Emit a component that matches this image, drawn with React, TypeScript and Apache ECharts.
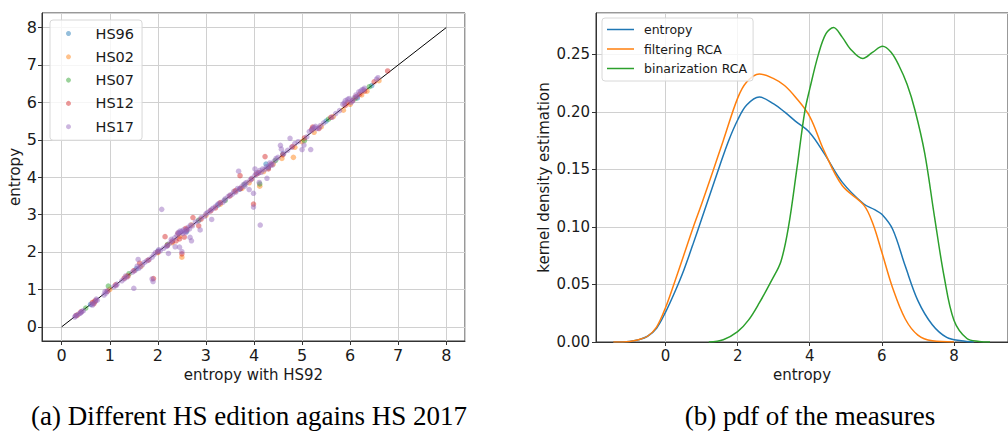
import React, { useEffect, useRef } from "react";
import * as echarts from "echarts";

// ---------- left panel: scatter of entropy per HS edition vs HS92 ----------
const scatterNames = ["HS96", "HS02", "HS07", "HS12", "HS17"];

const hs96Points = [
  [0.6, 0.6], [1.55, 1.55], [2.6, 2.55], [3.25, 3.25], [4.3, 4.25], [4.6, 4.62],
  [5.5, 5.5], [6.15, 6.12], [6.45, 6.45], [4.25, 4.35], [2.0, 2.02], [3.7, 3.68],
];

const hs02Points = [
  [0.33, 0.32], [0.68, 0.67], [1.0, 1.0], [1.35, 1.35], [1.65, 1.62], [2.0, 1.98],
  [2.3, 2.25], [2.5, 1.86], [2.7, 2.72], [3.0, 2.98], [3.3, 3.28], [3.6, 3.62],
  [3.75, 3.7], [4.12, 3.76], [4.2, 4.15], [4.4, 4.35], [4.58, 4.5], [4.82, 4.53],
  [5.0, 4.95], [5.25, 5.2], [5.4, 5.35], [5.65, 5.62], [5.86, 5.79], [6.0, 5.95],
  [6.24, 6.2], [6.35, 6.3], [6.6, 6.58], [4.85, 4.8], [3.9, 3.85], [2.45, 2.42],
];

const hs07Points = [
  [0.97, 1.09], [0.5, 0.5], [1.4, 1.42], [2.2, 2.2], [2.85, 2.85], [3.4, 3.38],
  [3.8, 3.8], [4.12, 3.82], [4.45, 4.45], [5.05, 4.98], [5.55, 5.55], [6.1, 6.1],
  [6.4, 6.42],
];

const hs12Points = [
  [0.3, 0.3], [0.4, 0.4], [0.64, 0.65], [0.7, 0.7], [0.95, 0.95], [1.12, 1.12],
  [1.3, 1.3], [1.5, 1.5], [1.62, 1.7], [1.8, 1.78], [1.91, 1.29], [2.0, 2.0],
  [2.15, 2.41], [2.3, 2.28], [2.42, 2.5], [2.5, 1.95], [2.55, 2.4], [2.6, 2.6],
  [2.73, 2.92], [2.85, 2.7], [2.9, 2.88], [3.1, 3.1], [3.3, 3.32], [3.5, 3.5],
  [3.71, 4.04], [3.72, 3.7], [3.95, 3.95], [3.99, 3.28], [4.1, 4.12], [4.23, 4.55],
  [4.35, 4.33], [4.6, 4.6], [4.8, 4.82], [5.05, 5.05], [5.2, 5.28], [5.35, 5.3],
  [5.6, 5.6], [5.9, 5.92], [6.05, 6.05], [6.2, 6.22], [6.3, 6.3], [6.5, 6.55],
  [6.78, 6.84], [2.45, 2.35], [2.58, 2.63], [0.67, 0.62], [1.38, 1.36], [2.2, 2.18],
  [2.38, 2.3], [3.2, 3.18], [3.62, 3.64], [4.05, 4.08], [4.3, 4.22], [5.22, 5.34],
  [5.95, 6.0], [6.12, 6.15],
];

const hs17Points = [
  [0.27, 0.26], [0.31, 0.3], [0.35, 0.34], [0.38, 0.36], [0.42, 0.41], [0.45, 0.43],
  [0.62, 0.6], [0.66, 0.63], [0.7, 0.68], [0.74, 0.71], [0.88, 0.85], [0.92, 0.9],
  [0.95, 0.96], [1.08, 1.07], [1.13, 1.1], [1.25, 1.23], [1.3, 1.28], [1.36, 1.33],
  [1.47, 1.46], [1.52, 1.5], [1.57, 1.62], [1.6, 1.56], [1.68, 1.66], [1.77, 1.76],
  [1.82, 1.8], [1.88, 1.86], [1.95, 1.98], [2.0, 2.01], [2.05, 2.03], [2.12, 2.1],
  [2.18, 2.15], [2.25, 2.24], [2.3, 2.3], [2.35, 2.38], [2.4, 2.45], [2.44, 2.5],
  [2.48, 2.53], [2.52, 2.5], [2.56, 2.55], [2.6, 2.58], [2.66, 2.62], [2.72, 2.7],
  [2.78, 2.8], [2.84, 2.83], [2.9, 2.92], [2.97, 2.95], [3.03, 3.05], [3.08, 3.1],
  [3.15, 3.17], [3.2, 3.22], [3.28, 3.3], [3.35, 3.33], [3.4, 3.42], [3.46, 3.48],
  [3.55, 3.55], [3.62, 3.6], [3.7, 3.68], [3.78, 3.8], [3.85, 3.86], [3.95, 3.97],
  [4.02, 4.05], [4.08, 4.1], [4.15, 4.13], [4.22, 4.2], [4.3, 4.28], [4.36, 4.35],
  [4.42, 4.43], [4.5, 4.53], [4.62, 4.64], [4.7, 4.72], [4.78, 4.8], [4.85, 4.9],
  [4.92, 4.95], [5.1, 5.08], [5.2, 5.25], [5.25, 5.33], [5.3, 5.3], [5.38, 5.38],
  [5.45, 5.45], [5.62, 5.6], [5.7, 5.7], [5.78, 5.78], [5.85, 5.95], [5.9, 6.05],
  [5.95, 6.08], [6.02, 6.0], [6.08, 6.12], [6.12, 6.2], [6.18, 6.28], [6.22, 6.3],
  [6.28, 6.34], [6.55, 6.62], [6.58, 6.66],
  [0.29, 0.3], [0.4, 0.38], [0.64, 0.58], [0.72, 0.74], [0.9, 0.94], [1.15, 1.14],
  [1.33, 1.36], [1.63, 1.6], [1.72, 1.72], [1.92, 1.93], [2.02, 2.06], [2.28, 2.34],
  [2.42, 2.52], [2.46, 2.56], [2.5, 2.56], [2.54, 2.6], [2.58, 2.52], [2.63, 2.66],
  [2.68, 2.72], [3.0, 3.02], [3.12, 3.14], [3.25, 3.28], [3.38, 3.38], [3.5, 3.52],
  [3.58, 3.62], [3.66, 3.7], [3.74, 3.74], [3.82, 3.84], [3.92, 3.92], [4.05, 4.12],
  [4.12, 4.18], [4.18, 4.22], [4.26, 4.28], [4.33, 4.38], [4.38, 4.32], [4.46, 4.5],
  [5.15, 5.22], [5.22, 5.3], [5.28, 5.36], [5.35, 5.32], [5.88, 5.98], [5.98, 6.1],
  [6.05, 6.04], [6.15, 6.16], [6.25, 6.34], [6.3, 6.38],
  [2.08, 3.14], [1.5, 1.03], [1.9, 1.21], [1.88, 1.28], [2.22, 1.96], [2.2, 2.17],
  [2.36, 2.14], [2.45, 2.13], [2.5, 2.01], [2.67, 2.39], [2.7, 2.3], [2.88, 2.59],
  [3.12, 2.87], [3.68, 4.16], [3.81, 3.76], [3.9, 3.67], [3.99, 3.57], [3.99, 3.2],
  [4.11, 3.86], [4.13, 2.72], [4.27, 3.97], [4.02, 4.22], [4.55, 4.85], [4.57, 4.75],
  [4.75, 5.04], [5.0, 4.74], [5.04, 4.86], [5.18, 4.74], [1.59, 1.8],
];

const diagonalLine = [[0, 0], [8, 8]];

// ---------- right panel: kernel density estimation ----------
const kdeNames = ["entropy", "filtering RCA", "binarization RCA"];

const entropyX = [-1.45, -1.0, -0.75, -0.5, -0.25, 0, 0.25, 0.5, 0.75, 1.0, 1.25, 1.5, 1.75, 2.0, 2.25, 2.6, 3.0, 3.3, 3.6, 4.0, 4.4, 4.9, 5.5, 5.8, 6.0, 6.3, 6.65, 7.0, 7.4, 7.8, 8.2, 8.55];
const entropyY = [0, 0.0005, 0.002, 0.005, 0.012, 0.026, 0.043, 0.062, 0.084, 0.107, 0.13, 0.153, 0.175, 0.193, 0.206, 0.213, 0.207, 0.2, 0.192, 0.182, 0.164, 0.139, 0.12, 0.115, 0.111, 0.098, 0.066, 0.036, 0.015, 0.004, 0.001, 0];

const filteringX = [-1.45, -1.0, -0.75, -0.5, -0.25, 0, 0.25, 0.5, 0.77, 1.0, 1.33, 1.6, 2.0, 2.25, 2.6, 3.0, 3.3, 3.6, 4.0, 4.4, 4.9, 5.5, 5.75, 6.0, 6.3, 6.65, 7.0, 7.4, 8.0];
const filteringY = [0, 0.0005, 0.002, 0.005, 0.013, 0.03, 0.052, 0.075, 0.1, 0.12, 0.15, 0.175, 0.212, 0.226, 0.233, 0.229, 0.223, 0.213, 0.196, 0.166, 0.136, 0.119, 0.103, 0.078, 0.047, 0.02, 0.006, 0.001, 0];

const binarizationX = [1.2, 1.6, 2.0, 2.3, 2.6, 2.95, 3.2, 3.41, 3.64, 3.86, 4.0, 4.24, 4.45, 4.66, 4.9, 5.12, 5.47, 5.75, 6.02, 6.25, 6.47, 6.7, 6.92, 7.19, 7.46, 7.73, 8.0, 8.36, 8.7, 9.0];
const binarizationY = [0, 0.002, 0.009, 0.019, 0.034, 0.054, 0.07, 0.1, 0.15, 0.2, 0.22, 0.25, 0.268, 0.2733, 0.265, 0.255, 0.2464, 0.252, 0.257, 0.252, 0.2406, 0.224, 0.2015, 0.164, 0.109, 0.0565, 0.019, 0.003, 0.0005, 0];

const captions = ["(a) Different HS edition agains HS 2017", "(b) pdf of the measures"];

// ---------- styling ----------
const FONT = "DejaVu Sans";
const TEXT = "#1a1a1a";
const GRIDLINE = "#d0d0d0";
const SPINE = "#333333";
const scatterColors = [
  "rgba(31,119,180,0.6)",
  "rgba(255,127,14,0.6)",
  "rgba(44,160,44,0.6)",
  "rgba(214,39,40,0.6)",
  "rgba(148,103,189,0.6)",
];
const kdeColors = ["#1f77b4", "#ff7f0e", "#2ca02c"];

const zip = (xs: number[], ys: number[]) => xs.map((x, i) => [x, ys[i]]);

function baseAxis(extra: any, fontSize: number) {
  return {
    type: "value",
    axisLine: { show: true, onZero: false, lineStyle: { color: SPINE, width: 1 } },
    axisTick: { show: true, inside: false, length: 4, lineStyle: { color: SPINE } },
    splitLine: { show: true, lineStyle: { color: GRIDLINE, width: 1 } },
    nameTextStyle: { fontFamily: FONT, fontSize: 15, color: TEXT },
    ...extra,
    axisLabel: {
      fontFamily: FONT,
      fontSize,
      color: TEXT,
      showMinLabel: false,
      showMaxLabel: false,
      ...(extra.axisLabel || {}),
    },
  };
}

export default function App() {
  const ref = useRef<HTMLDivElement>(null);

  useEffect(() => {
    if (!ref.current) return;
    const chart = echarts.init(ref.current, undefined, { renderer: "svg" });

    const scatterData = [hs96Points, hs02Points, hs07Points, hs12Points, hs17Points];
    const kdeData = [zip(entropyX, entropyY), zip(filteringX, filteringY), zip(binarizationX, binarizationY)];

    const option: any = {
      animation: false,
      backgroundColor: "#ffffff",
      grid: [
        { left: 42, top: 13, width: 423, height: 328, show: true, borderColor: SPINE, borderWidth: 1, backgroundColor: "transparent" },
        { left: 596, top: 13, width: 422, height: 329, show: true, borderColor: SPINE, borderWidth: 1, backgroundColor: "transparent" },
      ],
      xAxis: [
        baseAxis({
          gridIndex: 0, min: -0.41, max: 8.39, splitNumber: 8,
          name: "entropy with HS92", nameLocation: "middle", nameGap: 23,
          axisLabel: { margin: 6 },
        }, 16),
        baseAxis({
          gridIndex: 1, min: -1.93, max: 9.5, splitNumber: 6,
          name: "entropy", nameLocation: "middle", nameGap: 23,
          axisLabel: { margin: 6 },
        }, 15),
      ],
      yAxis: [
        baseAxis({
          gridIndex: 0, min: -0.38, max: 8.39, splitNumber: 8,
          name: "entropy", nameLocation: "middle", nameGap: 20,
          axisLabel: { margin: 5 },
        }, 16),
        baseAxis({
          gridIndex: 1, min: 0, max: 0.286, splitNumber: 6,
          name: "kernel density estimation", nameLocation: "middle", nameGap: 45,
          axisLabel: { margin: 6, showMinLabel: true, formatter: (v: number) => v.toFixed(2) },
        }, 15),
      ],
      legend: [
        {
          data: scatterNames,
          orient: "vertical",
          left: 50,
          top: 20,
          padding: [5, 8, 5, 16],
          itemWidth: 10,
          itemHeight: 5,
          itemGap: 6.3,
          icon: "circle",
          selectedMode: false,
          backgroundColor: "rgba(255,255,255,0.8)",
          borderColor: "#d8d8d8",
          borderWidth: 1,
          borderRadius: 3,
          textStyle: { fontFamily: FONT, fontSize: 14.5, color: TEXT, padding: [0, 0, 0, 17], lineHeight: 17 },
        },
        {
          data: kdeNames,
          orient: "vertical",
          left: 602,
          top: 18,
          padding: [4, 6, 5, 5],
          itemWidth: 27,
          itemHeight: 1.5,
          itemGap: 4.5,
          icon: "rect",
          selectedMode: false,
          backgroundColor: "rgba(255,255,255,0.8)",
          borderColor: "#d8d8d8",
          borderWidth: 1,
          borderRadius: 3,
          textStyle: { fontFamily: FONT, fontSize: 12.5, color: TEXT, padding: [0, 0, 0, 5], lineHeight: 15 },
        },
      ],
      series: [
        {
          type: "line",
          xAxisIndex: 0,
          yAxisIndex: 0,
          data: diagonalLine,
          showSymbol: false,
          symbol: "none",
          lineStyle: { color: "#000", width: 1 },
          z: 1,
          silent: true,
        },
        ...scatterNames.map((name, i) => ({
          type: "scatter",
          name,
          xAxisIndex: 0,
          yAxisIndex: 0,
          data: scatterData[i],
          symbolSize: 5.5,
          itemStyle: { color: scatterColors[i] },
          z: 2,
        })),
        ...kdeNames.map((name, i) => ({
          type: "line",
          name,
          xAxisIndex: 1,
          yAxisIndex: 1,
          data: kdeData[i],
          showSymbol: false,
          symbol: "none",
          smooth: 0.35,
          lineStyle: { color: kdeColors[i], width: 1.5 },
          itemStyle: { color: kdeColors[i] },
          z: 2,
        })),
      ],
      graphic: [
        {
          type: "text",
          x: 249,
          y: 416,
          style: { text: captions[0], fontFamily: "Liberation Serif", fontSize: 27, fill: "#000", align: "center", verticalAlign: "middle" },
        },
        {
          type: "text",
          x: 810,
          y: 416,
          style: { text: captions[1], fontFamily: "Liberation Serif", fontSize: 27, fill: "#000", align: "center", verticalAlign: "middle" },
        },
      ],
    };

    chart.setOption(option);
    return () => chart.dispose();
  }, []);

  return (
    <div
      ref={ref}
      style={{ position: "absolute", left: 0, top: 0, width: 1008, height: 437, background: "#fff" }}
    />
  );
}
